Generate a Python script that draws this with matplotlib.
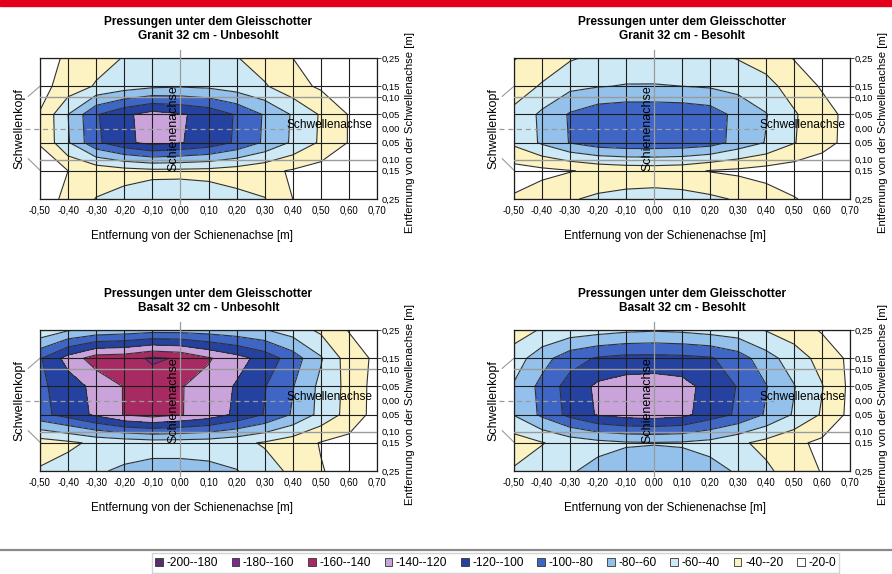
import numpy as np
import matplotlib
matplotlib.use("Agg")
import matplotlib.pyplot as plt
from matplotlib.patches import Patch, Rectangle
from matplotlib.lines import Line2D

plt.rcParams['font.family'] = ['Liberation Sans', 'DejaVu Sans']

# measuring grid: distance from rail axis (x) and from sleeper axis (y), in m
x_pos = [-0.5, -0.4, -0.3, -0.2, -0.1, 0.0, 0.1, 0.2, 0.3, 0.4, 0.5, 0.6, 0.7]
y_pos = [0.25, 0.15, 0.05, -0.05, -0.15, -0.25]

x_labels = ['-0,50', '-0,40', '-0,30', '-0,20', '-0,10', '0,00', '0,10',
            '0,20', '0,30', '0,40', '0,50', '0,60', '0,70']
y_ticks = [0.25, 0.15, 0.11, 0.05, 0.0, -0.05, -0.11, -0.15, -0.25]
y_labels = ['0,25', '0,15', '0,10', '0,05', '0,00', '0,05', '0,10', '0,15', '0,25']
sleeper_edges = [0.11, -0.11]

levels = [-200, -180, -160, -140, -120, -100, -80, -60, -40, -20, 0]
band_colors = ['#5a2d6e', '#7d2a8c', '#a82a62', '#c9a3d9', '#2542a0',
               '#3f66c5', '#93c1ec', '#cde9f5', '#fdf3c2', '#ffffff']
legend_labels = ['-200--180', '-180--160', '-160--140', '-140--120', '-120--100',
                 '-100--80', '-80--60', '-60--40', '-40--20', '-20-0']

# pressures under the ballast [kN/m²], rows follow y_pos, columns follow x_pos
granit_unbesohlt = [
    [-12, -23, -32, -41, -46, -48, -46, -41, -30, -20, -12, -8, -5],
    [-14, -28, -42, -50, -56, -58, -56, -50, -42, -27, -17, -10, -6],
    [-21, -60, -98, -116, -128, -122, -114, -98, -78, -58, -38, -19, -10],
    [-21, -58, -96, -115, -127, -121, -113, -97, -77, -57, -37, -19, -10],
    [-12, -20, -26, -32, -35, -35, -34, -30, -25, -18, -12, -8, -5],
    [-14, -23, -41, -47, -51, -52, -50, -46, -41, -20, -12, -8, -5],
]
granit_besohlt = [
    [-19, -28, -38, -44, -48, -49, -48, -45, -39, -32, -19, -12, -8],
    [-30, -42, -55, -59, -61, -61, -60, -58, -54, -46, -32, -18, -12],
    [-45, -64, -82, -92, -95, -95, -94, -90, -74, -61, -42, -28, -14],
    [-44, -63, -81, -91, -94, -94, -93, -89, -73, -59, -41, -27, -14],
    [-12, -15, -19, -24, -27, -28, -26, -19, -16, -12, -10, -8, -6],
    [-22, -30, -38, -44, -47, -48, -47, -44, -38, -30, -21, -14, -10],
]
basalt_unbesohlt = [
    [-45, -58, -65, -68, -72, -72, -70, -66, -61, -50, -36, -19, -14],
    [-98, -128, -150, -152, -163, -158, -142, -128, -112, -90, -62, -30, -16],
    [-96, -110, -126, -141, -150, -141, -133, -118, -101, -81, -55, -34, -12],
    [-94, -108, -124, -141, -148, -141, -132, -116, -99, -78, -54, -33, -12],
    [-30, -36, -44, -47, -50, -50, -49, -45, -38, -29, -19, -14, -10],
    [-42, -48, -57, -64, -68, -68, -66, -61, -48, -36, -21, -14, -12],
]
basalt_besohlt = [
    [-30, -42, -48, -52, -56, -58, -56, -52, -48, -39, -30, -18, -12],
    [-50, -72, -92, -102, -106, -106, -105, -102, -90, -68, -50, -33, -16],
    [-62, -86, -108, -124, -130, -132, -128, -112, -99, -81, -61, -41, -16],
    [-61, -84, -106, -122, -128, -130, -126, -110, -97, -78, -58, -38, -15],
    [-30, -39, -48, -54, -58, -59, -58, -54, -44, -34, -24, -16, -12],
    [-42, -50, -58, -66, -70, -71, -70, -66, -58, -44, -30, -19, -14],
]

panels = [
    ('Granit 32 cm - Unbesohlt', granit_unbesohlt),
    ('Granit 32 cm - Besohlt', granit_besohlt),
    ('Basalt 32 cm - Unbesohlt', basalt_unbesohlt),
    ('Basalt 32 cm - Besohlt', basalt_besohlt),
]

W, H = 892, 574
fig = plt.figure(figsize=(W / 100, H / 100), dpi=100)

# axes boxes in pixels: left, top, right, bottom
boxes = [(40, 58, 377, 199), (514, 58, 850, 199),
         (40, 330, 377, 471), (514, 330, 850, 471)]

X, Y = np.meshgrid(x_pos, y_pos)

for (subtitle, data), (l, t, r, b) in zip(panels, boxes):
    ax = fig.add_axes([l / W, 1 - b / H, (r - l) / W, (b - t) / H])
    wpx, hpx = r - l, b - t
    Z = np.array(data, dtype=float)

    ax.contourf(X, Y, Z, levels=levels, colors=band_colors)
    ax.contour(X, Y, Z, levels=levels[1:-1], colors='#303030', linewidths=0.8,
               linestyles='solid')

    # grid of measuring points
    for xv in x_pos:
        if xv != 0.0:
            ax.axvline(xv, color='#1e1e1e', lw=0.8, zorder=3)
    for yv in y_pos:
        ax.axhline(yv, color='#1e1e1e', lw=0.8, zorder=3)
    for yv in sleeper_edges:
        ax.axhline(yv, color='#9a9a9a', lw=1.0, zorder=3)

    # rail axis and sleeper axis
    ax.plot([0, 0], [0.278, -0.268], color='#9a9a9a', lw=0.9, zorder=4, clip_on=False)
    ax.plot([-0.555, 0.43], [0, 0], color='#9a9a9a', lw=0.9, ls=(0, (4, 3)),
            zorder=4, clip_on=False)
    # sleeper head bracket
    ax.plot([-0.542, -0.5], [0.114, 0.15], color='#9a9a9a', lw=0.8, clip_on=False)
    ax.plot([-0.542, -0.5], [-0.107, -0.148], color='#9a9a9a', lw=0.8, clip_on=False)

    ax.set_xlim(-0.5, 0.7)
    ax.set_ylim(-0.25, 0.25)
    for s in ax.spines.values():
        s.set_color('#1e1e1e')
        s.set_linewidth(0.9)

    ax.set_xticks(x_pos)
    ax.set_xticklabels(x_labels, fontsize=6.9)
    ax.tick_params(axis='x', length=0, pad=4.5)

    ax.yaxis.tick_right()
    ax.set_yticks(y_ticks)
    ax.set_yticklabels(y_labels, fontsize=6.8)
    ax.tick_params(axis='y', length=3, width=0.7, pad=0.5, color='#444444')
    for i, tk in enumerate(ax.yaxis.get_major_ticks()):
        if y_ticks[i] <= 0:
            tk.tick2line.set_visible(False)

    ax.text(0.5, 1 + 36 / hpx, 'Pressungen unter dem Gleisschotter', transform=ax.transAxes,
            ha='center', va='center', fontsize=8.6, fontweight='bold')
    ax.text(0.5, 1 + 22 / hpx, subtitle, transform=ax.transAxes,
            ha='center', va='center', fontsize=8.6, fontweight='bold')
    ax.text(0.45, -37 / hpx, 'Entfernung von der Schienenachse [m]', transform=ax.transAxes,
            ha='center', va='center', fontsize=8.4)
    ax.text(1 + 33 / wpx, 0.47, 'Entfernung von der Schwellenachse [m]', transform=ax.transAxes,
            ha='center', va='center', fontsize=8.2, rotation=90)
    ax.text(-21 / wpx, 0.5, 'Schwellenkopf', transform=ax.transAxes,
            ha='center', va='center', fontsize=9, rotation=90)
    ax.text(-0.025, 0.0, 'Schienenachse', ha='center', va='center', fontsize=9,
            rotation=90, zorder=5)
    ax.text(0.53, 0.013, 'Schwellenachse', ha='center', va='center', fontsize=8.6, zorder=5)

# red band along the top edge
fig.patches.append(Rectangle((0, 1 - 6 / H), 1, 6 / H, transform=fig.transFigure,
                             color='#e2001a', zorder=10))
# separator above the legend
fig.lines.append(Line2D([0, 1], [1 - 550 / H, 1 - 550 / H], transform=fig.transFigure,
                        color='#8a8a8a', lw=1.6))

handles = [Patch(facecolor=c, edgecolor='#333333', lw=0.6) for c in band_colors]
fig.legend(handles, legend_labels, loc='center', bbox_to_anchor=(495.5 / W, 1 - 563 / H),
           ncol=10, fontsize=8.6, frameon=True, fancybox=False, edgecolor='#c8c8c8',
           handlelength=0.65, handleheight=0.65, handletextpad=0.3, columnspacing=1.15,
           borderpad=0.3, borderaxespad=0)

fig.savefig('out.png', dpi=100)
